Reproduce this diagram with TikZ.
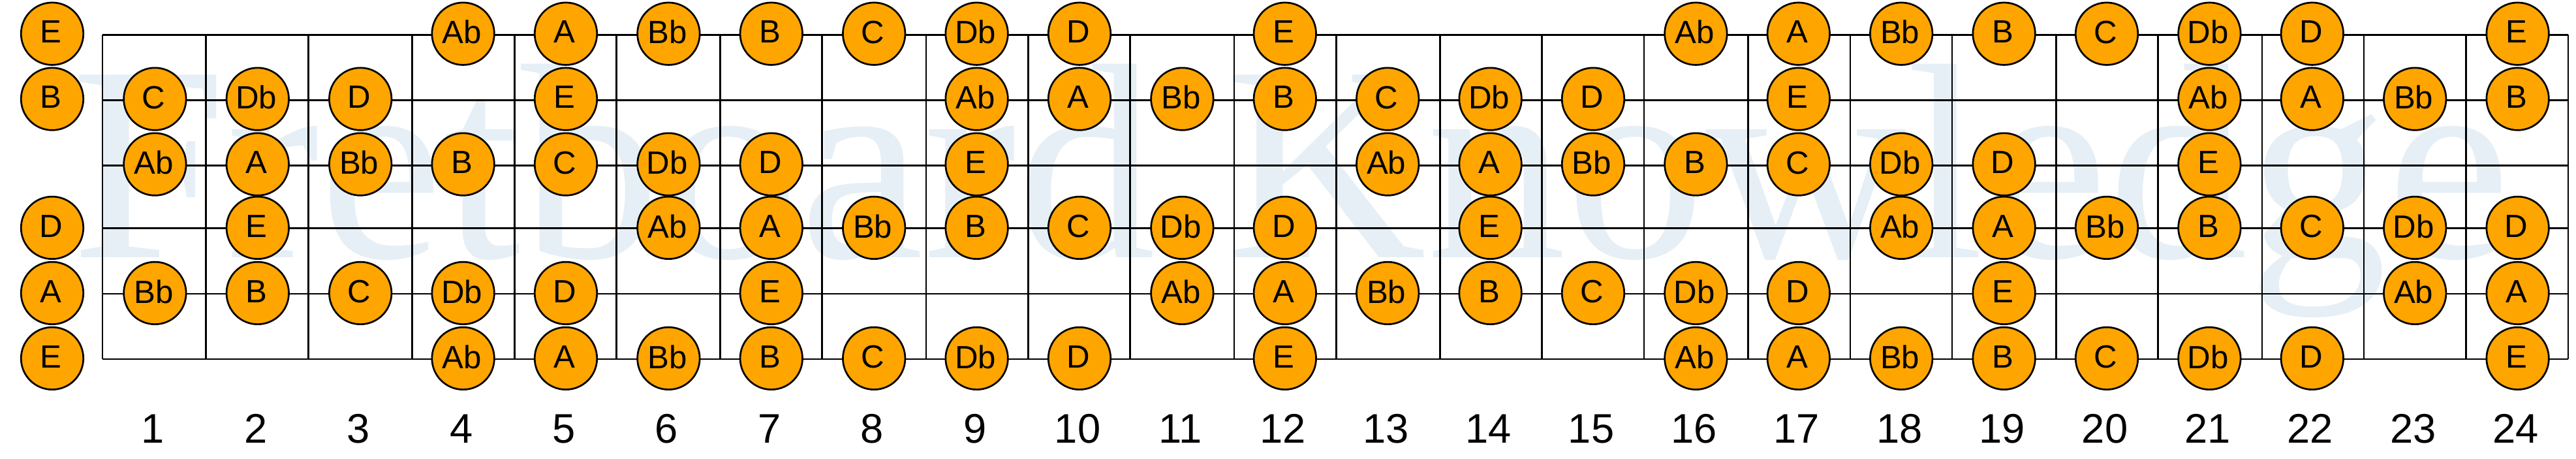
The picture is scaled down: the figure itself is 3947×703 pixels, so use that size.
\documentclass[tikz,border=0pt]{standalone}
\usepackage{fontspec}
\setmainfont{Liberation Sans}
\newfontfamily\markfont{Liberation Serif}
\definecolor{notefill}{HTML}{FFA500}
\definecolor{markblue}{HTML}{E6EFF5}
\newlength{\unitpx}
\setlength{\unitpx}{0.01cm}
\tikzset{
    notedot/.style={circle,draw=black,fill=notefill,line width=0.77pt,minimum size=95.5\unitpx,inner sep=0pt,
        text depth=5.4\unitpx,execute at end node={\hspace{4\unitpx}},font=\fontsize{14}{14}\selectfont},
    fretnum/.style={font=\fontsize{18}{18}\selectfont,inner sep=0pt},
    wiremark/.style={line width=0.77pt}
}
\newcommand{\notesrow}[3]{%
    \foreach \fret/\note in {#3}
        \node [notedot] (n#1-\fret) at (80+157.4*\fret,#2) {\note};
}
\begin{document}
\begin{tikzpicture}[x=0.01cm,y=-0.01cm]
    \useasboundingbox (0,0) rectangle (3947,703);
    \node [text=markblue,anchor=base west,inner sep=0pt,font=\markfont\fontsize{121.5}{122}\selectfont] (watermark) at (109,394.5) {Fretboard Knowledge};

    % strings
    \foreach \y in {53.4,153.8,253.8,349.8,450,550}
        \draw [wiremark] (157,\y) -- (3935,\y);
    % frets
    \foreach \x in {157,315.7,472.7,631.7,788.3,944.3,1103.3,1259.7,1419,1575.7,1731.7,1891,2047.7,2206.7,2362.7,2519,2678.3,2835,2991,3150.3,3306.7,3466,3622,3778.7,3935}
        \draw [wiremark] (\x,53.4) -- (\x,550);

    \notesrow{1}{51.7}{0/E,4/Ab,5/A,6/Bb,7/B,8/C,9/Db,10/D,12/E,16/Ab,17/A,18/Bb,19/B,20/C,21/Db,22/D,24/E}
    \notesrow{2}{151.6}{0/B,1/C,2/Db,3/D,5/E,9/Ab,10/A,11/Bb,12/B,13/C,14/Db,15/D,17/E,21/Ab,22/A,23/Bb,24/B}
    \notesrow{3}{251.6}{1/Ab,2/A,3/Bb,4/B,5/C,6/Db,7/D,9/E,13/Ab,14/A,15/Bb,16/B,17/C,18/Db,19/D,21/E}
    \notesrow{4}{348.9}{0/D,2/E,6/Ab,7/A,8/Bb,9/B,10/C,11/Db,12/D,14/E,18/Ab,19/A,20/Bb,21/B,22/C,23/Db,24/D}
    \notesrow{5}{448.9}{0/A,1/Bb,2/B,3/C,4/Db,5/D,7/E,11/Ab,12/A,13/Bb,14/B,15/C,16/Db,17/D,19/E,23/Ab,24/A}
    \notesrow{6}{548.9}{0/E,4/Ab,5/A,6/Bb,7/B,8/C,9/Db,10/D,12/E,16/Ab,17/A,18/Bb,19/B,20/C,21/Db,22/D,24/E}

    \foreach \fret in {1,...,24}
        \node [fretnum] (num\fret) at (77+157.4*\fret,656.7) {\fret};
\end{tikzpicture}
\end{document}
